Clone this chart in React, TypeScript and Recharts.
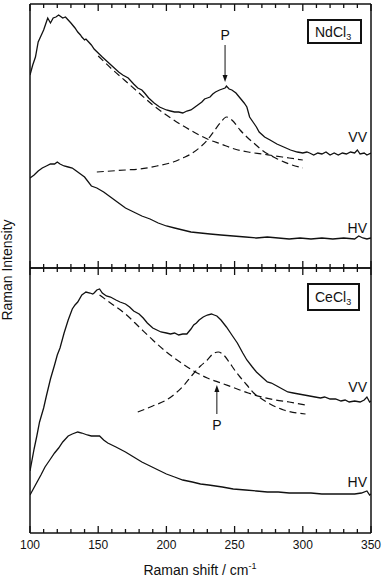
import React from 'react';
import { LineChart, Line, XAxis, YAxis, ReferenceLine } from 'recharts';

const xMinorTicks = [100, 110, 120, 130, 140, 150, 160, 170, 180, 190, 200, 210, 220, 230, 240, 250, 260, 270, 280, 290, 300, 310, 320, 330, 340, 350];
const xMajorTicks = [100, 150, 200, 250, 300, 350];

// NdCl3 panel (arbitrary intensity units)
const ndVV: [number, number][] = [
  [100, 193], [102, 203], [104, 211], [106, 226], [108, 232], [110, 238], [112, 246], [113, 250], [115, 245], [117, 250],
  [119, 251], [121, 253], [122, 252], [124, 250], [126, 251], [128, 248], [130, 245], [133, 240], [135, 236], [137, 233],
  [138, 231], [140, 228], [141, 229], [143, 226], [145, 223], [147, 219], [150, 215], [153, 211], [157, 206], [161, 201],
  [165, 196], [168, 193], [172, 190], [176, 184], [179, 180], [182, 178], [184, 175], [187, 170], [191, 165], [195, 161],
  [200, 158], [203, 157], [206, 156], [209, 156], [212, 155], [215, 157], [218, 158], [220, 160], [223, 163], [226, 166],
  [228, 169], [230, 170], [232, 171], [234, 174], [236, 176], [239, 178], [241, 179], [243, 180], [244, 182], [246, 179],
  [248, 178], [251, 175], [254, 170], [257, 165], [259, 161], [261, 151], [264, 145], [266, 141], [268, 136], [272, 131],
  [276, 128], [281, 124], [286, 121], [291, 118], [296, 116], [300, 115], [303, 116], [305, 115], [308, 113], [311, 115],
  [314, 114], [317, 116], [320, 113], [323, 115], [326, 113], [329, 115], [332, 114], [335, 116], [338, 115], [340, 118],
  [342, 114], [345, 115], [347, 113], [350, 115],
];
const ndBase: [number, number][] = [
  [150, 212], [160, 199], [170, 187], [180, 175], [190, 163], [200, 153], [210, 144], [220, 136], [230, 129], [240, 124],
  [250, 119], [260, 116], [270, 114], [280, 112], [290, 110], [300, 108],
];
const ndPeak: [number, number][] = [
  [149, 96], [170, 98], [181, 99], [193, 102], [205, 106], [212, 110], [218, 114], [224, 120], [230, 128], [235, 137],
  [240, 146], [244, 151], [248, 148], [254, 138], [259, 131], [264, 125], [270, 118], [280, 110], [290, 104], [300, 100],
];
const ndHV: [number, number][] = [
  [100, 90], [103, 93], [106, 97], [109, 100], [112, 102], [115, 104], [118, 104], [120, 106], [122, 104], [125, 102],
  [128, 101], [131, 100], [134, 97], [137, 94], [140, 91], [145, 82], [149, 80], [154, 76], [159, 71], [164, 66],
  [170, 60], [176, 56], [182, 52], [188, 49], [194, 45], [200, 42], [206, 40], [212, 38], [218, 36], [225, 35],
  [232, 34], [240, 33], [249, 32], [258, 31], [266, 30], [274, 31], [282, 30], [290, 29], [298, 30], [306, 29],
  [314, 30], [322, 29], [330, 30], [338, 29], [341, 32], [344, 30], [347, 29], [350, 30],
];

// CeCl3 panel (arbitrary intensity units)
const ceVV: [number, number][] = [
  [100, 62], [103, 84], [105, 97], [107, 111], [110, 125], [112, 137], [115, 154], [118, 168], [120, 178], [122, 185],
  [125, 200], [128, 213], [131, 224], [133, 228], [135, 231], [138, 238], [140, 240], [141, 241], [144, 240], [146, 239],
  [147, 240], [149, 243], [151, 244], [153, 240], [156, 237], [159, 236], [163, 233], [166, 231], [170, 229], [173, 226],
  [176, 222], [180, 219], [183, 215], [186, 210], [190, 205], [193, 203], [196, 201], [200, 200], [203, 199], [206, 200],
  [209, 198], [212, 199], [215, 199], [218, 204], [220, 208], [222, 210], [224, 213], [227, 216], [230, 218], [233, 219],
  [235, 218], [237, 217], [240, 213], [244, 206], [248, 198], [252, 190], [256, 180], [259, 173], [263, 166], [266, 161],
  [270, 156], [274, 151], [277, 150], [281, 147], [285, 144], [289, 141], [293, 140], [297, 139], [301, 138], [305, 137],
  [309, 136], [313, 135], [316, 136], [320, 134], [324, 134], [328, 132], [331, 133], [334, 131], [338, 132], [342, 131],
  [345, 133], [347, 136], [349, 131], [350, 132],
];
const ceBase: [number, number][] = [
  [151, 238], [160, 229], [170, 219], [180, 206], [190, 193], [200, 181], [210, 171], [220, 162], [230, 155], [240, 150],
  [250, 145], [260, 140], [270, 136], [280, 133], [290, 131], [302, 128],
];
const cePeak: [number, number][] = [
  [179, 121], [190, 127], [200, 133], [207, 140], [213, 148], [219, 158], [225, 167], [230, 173], [234, 179], [238, 181],
  [242, 178], [246, 171], [250, 163], [254, 156], [259, 148], [264, 140], [270, 134], [276, 129], [286, 123], [302, 119],
];
const ceHV: [number, number][] = [
  [100, 38], [104, 48], [108, 58], [111, 66], [115, 74], [118, 80], [121, 85], [124, 91], [128, 97], [131, 99],
  [135, 101], [138, 100], [142, 98], [145, 97], [148, 97], [151, 97], [154, 93], [157, 90], [163, 86], [170, 81],
  [176, 76], [182, 71], [188, 67], [194, 63], [200, 59], [206, 56], [212, 53], [219, 51], [225, 49], [231, 48],
  [241, 46], [249, 44], [258, 43], [266, 42], [274, 41], [282, 41], [290, 40], [298, 40], [306, 40], [314, 39],
  [322, 39], [330, 39], [338, 39], [343, 40], [347, 42], [349, 38], [350, 39],
];

const toPts = (a: [number, number][]) => a.map(([x, y]) => ({ x, y }));

const FONT = '"Liberation Sans", Arial, Helvetica, sans-serif';
const INK = '#111';

// plot geometry shared by both panels
const PLOT_LEFT = 30;
const PLOT_RIGHT = 371;
const EDGES = [4, 268, 533]; // top of upper panel, shared divider, bottom of lower panel
const xPix = (v: number) => PLOT_LEFT + ((v - 100) / 250) * (PLOT_RIGHT - PLOT_LEFT);

const LabelTick = (props: any) => {
  const { x, y, payload } = props;
  return (
    <text x={x} y={y + 16} textAnchor="middle" fontSize={12} fontFamily={FONT} fill={INK}>
      {payload.value}
    </text>
  );
};
const NoTick = () => <g />;

const arrowShape = (labelAbove: boolean) => (p: any) => {
  const { x1, y1, x2, y2 } = p;
  const dir = y2 > y1 ? 1 : -1;
  const head = 7;
  return (
    <g>
      <line x1={x1} y1={y1} x2={x2} y2={y2 - dir * head} stroke={INK} strokeWidth={1} />
      <polygon points={`${x2},${y2} ${x2 - 2.5},${y2 - dir * head} ${x2 + 2.5},${y2 - dir * head}`} fill={INK} />
      <text x={x1} y={labelAbove ? y1 - 5 : y1 + 16} textAnchor="middle" fontSize={14} fontFamily={FONT} fill={INK}>
        P
      </text>
    </g>
  );
};

const solid = { stroke: INK, strokeWidth: 1.3, dot: false, isAnimationActive: false, type: 'linear' as const };
const dashed = { stroke: INK, strokeWidth: 1.2, strokeDasharray: '7 4', dot: false, isAnimationActive: false, type: 'monotone' as const };

function Panel(props: { top: number; bottom: number; ymax: number; children: React.ReactNode; labels: boolean }) {
  return (
    <div style={{ position: 'absolute', left: 0, top: 0 }}>
      <LineChart width={382} height={578} margin={{ top: props.top - 1, right: 11, bottom: props.bottom - 1, left: 29 }}>
        <XAxis
          dataKey="x"
          type="number"
          domain={[100, 350]}
          ticks={xMajorTicks}
          interval={0}
          height={1}
          tickSize={0}
          tickMargin={0}
          tickLine={false}
          axisLine={{ stroke: INK, strokeWidth: 1.5 }}
          tick={props.labels ? LabelTick : NoTick}
          allowDataOverflow
        />
        <XAxis
          xAxisId="top"
          orientation="top"
          dataKey="x"
          type="number"
          domain={[100, 350]}
          ticks={xMajorTicks}
          interval={0}
          height={1}
          tickSize={0}
          tickLine={false}
          axisLine={{ stroke: INK, strokeWidth: 1.5 }}
          tick={NoTick}
          allowDataOverflow
        />
        <YAxis
          type="number"
          domain={[0, props.ymax]}
          width={1}
          tick={false}
          tickLine={false}
          axisLine={{ stroke: INK, strokeWidth: 1.5 }}
          allowDataOverflow
        />
        <ReferenceLine x={350} stroke={INK} strokeWidth={1.5} />
        {props.children}
      </LineChart>
    </div>
  );
}

function FrameTicks() {
  const marks: React.ReactNode[] = [];
  xMinorTicks.forEach((t) => {
    const len = xMajorTicks.includes(t) ? 7 : 4;
    const x = xPix(t);
    EDGES.forEach((e, i) => {
      if (i > 0) marks.push(<line key={`u${t}-${i}`} x1={x} x2={x} y1={e} y2={e - len} stroke={INK} strokeWidth={1.3} />);
      if (i < EDGES.length - 1) marks.push(<line key={`d${t}-${i}`} x1={x} x2={x} y1={e} y2={e + len} stroke={INK} strokeWidth={1.3} />);
    });
  });
  return <g>{marks}</g>;
}

export default function App() {
  return (
    <div style={{ position: 'absolute', left: 0, top: 0, width: 382, height: 578, background: '#fff', fontFamily: FONT }}>
      <Panel top={4} bottom={310} ymax={264} labels={false}>
        <Line data={toPts(ndBase)} dataKey="y" {...dashed} />
        <Line data={toPts(ndPeak)} dataKey="y" {...dashed} />
        <Line data={toPts(ndVV)} dataKey="y" {...solid} />
        <Line data={toPts(ndHV)} dataKey="y" {...solid} />
        <ReferenceLine segment={[{ x: 243, y: 223 }, { x: 243, y: 186 }]} shape={arrowShape(true)} />
      </Panel>
      <Panel top={268} bottom={45} ymax={265} labels={true}>
        <Line data={toPts(ceBase)} dataKey="y" {...dashed} />
        <Line data={toPts(cePeak)} dataKey="y" {...dashed} />
        <Line data={toPts(ceVV)} dataKey="y" {...solid} />
        <Line data={toPts(ceHV)} dataKey="y" {...solid} />
        <ReferenceLine segment={[{ x: 237, y: 119 }, { x: 237, y: 148 }]} shape={arrowShape(false)} />
      </Panel>
      <svg width={382} height={578} style={{ position: 'absolute', left: 0, top: 0, pointerEvents: 'none' }}>
        <FrameTicks />
        <g fontFamily={FONT} fill={INK}>
          <rect x={308} y={20} width={53} height={23} fill="#fff" stroke={INK} strokeWidth={2} />
          <text x={315} y={37} fontSize={14}>
            NdCl<tspan fontSize={9} dy={3}>3</tspan>
          </text>
          <rect x={308} y={284} width={51} height={26} fill="#fff" stroke={INK} strokeWidth={2} />
          <text x={315} y={302} fontSize={14}>
            CeCl<tspan fontSize={9} dy={3}>3</tspan>
          </text>
          <text x={367} y={142} fontSize={14} textAnchor="end">VV</text>
          <text x={367} y={233} fontSize={14} textAnchor="end">HV</text>
          <text x={367} y={392} fontSize={14} textAnchor="end">VV</text>
          <text x={367} y={487} fontSize={14} textAnchor="end">HV</text>
          <text x={200} y={575} fontSize={14} textAnchor="middle">
            Raman shift / cm<tspan fontSize={9} dy={-6}>-1</tspan>
          </text>
          <text transform="translate(12,270) rotate(-90)" fontSize={14} textAnchor="middle">
            Raman Intensity
          </text>
        </g>
      </svg>
    </div>
  );
}
